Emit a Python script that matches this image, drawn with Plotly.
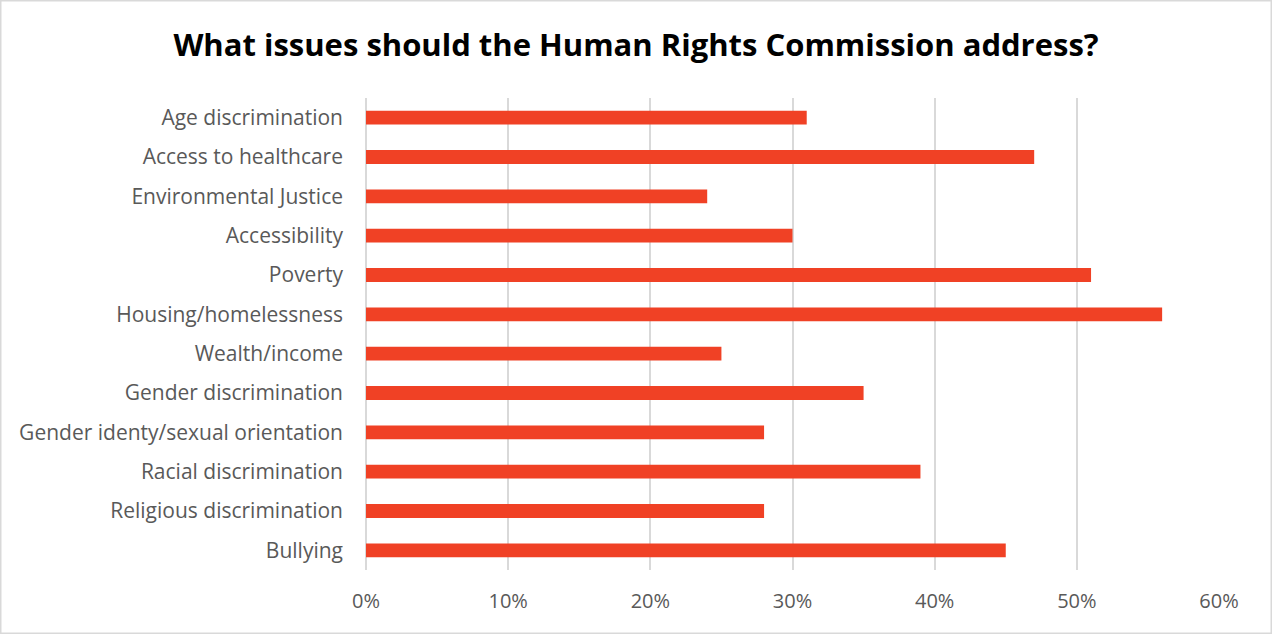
import plotly.graph_objects as go

issues = [
    "Age discrimination",
    "Access to healthcare",
    "Environmental Justice",
    "Accessibility",
    "Poverty",
    "Housing/homelessness",
    "Wealth/income",
    "Gender discrimination",
    "Gender identy/sexual orientation",
    "Racial discrimination",
    "Religious discrimination",
    "Bullying",
]
share = [0.31, 0.47, 0.24, 0.30, 0.51, 0.56, 0.25, 0.35, 0.28, 0.39, 0.28, 0.45]
x_ticks = [0, 0.1, 0.2, 0.3, 0.4, 0.5, 0.6]

W, H = 1272, 634
ML, MR, MT, MB = 366, 53, 98, 64
pw, ph = W - ML - MR, H - MT - MB

fig = go.Figure(
    go.Bar(
        x=share,
        y=issues,
        orientation="h",
        marker=dict(color="#F04125", line=dict(width=0)),
        hoverinfo="x+y",
    )
)

fig.update_layout(
    width=W,
    height=H,
    margin=dict(l=ML, r=MR, t=MT, b=MB),
    paper_bgcolor="white",
    plot_bgcolor="white",
    bargap=0.65,
    showlegend=False,
    font=dict(family="Open Sans, sans-serif", color="#595959"),
    title=dict(
        text="<b>What issues should the Human Rights Commission address?</b>",
        x=0.5,
        xanchor="center",
        y=1 - 45 / H,
        yanchor="middle",
        font=dict(size=31, color="#000000", family="Open Sans, sans-serif"),
    ),
    xaxis=dict(
        range=[0, 0.6],
        tickvals=x_ticks,
        tickformat=".0%",
        showgrid=True,
        gridcolor="#d9d9d9",
        gridwidth=1.5,
        zeroline=True,
        zerolinecolor="#d9d9d9",
        zerolinewidth=1.5,
        showline=False,
        ticks="",
        tickfont=dict(size=20, color="#595959"),
        ticklabelstandoff=17,
        fixedrange=True,
    ),
    yaxis=dict(
        autorange="reversed",
        showgrid=False,
        showline=False,
        ticks="",
        tickfont=dict(size=21, color="#595959"),
        ticklabelstandoff=22,
        fixedrange=True,
    ),
    shapes=[
        dict(
            type="rect",
            xref="paper",
            yref="paper",
            x0=(0.75 - ML) / pw,
            x1=(W - 0.75 - ML) / pw,
            y0=-(MB - 0.75) / ph,
            y1=1 + (MT - 0.75) / ph,
            line=dict(color="#d9d9d9", width=1.5),
            fillcolor="rgba(0,0,0,0)",
            layer="below",
        )
    ],
)

fig.write_html("out.html")
